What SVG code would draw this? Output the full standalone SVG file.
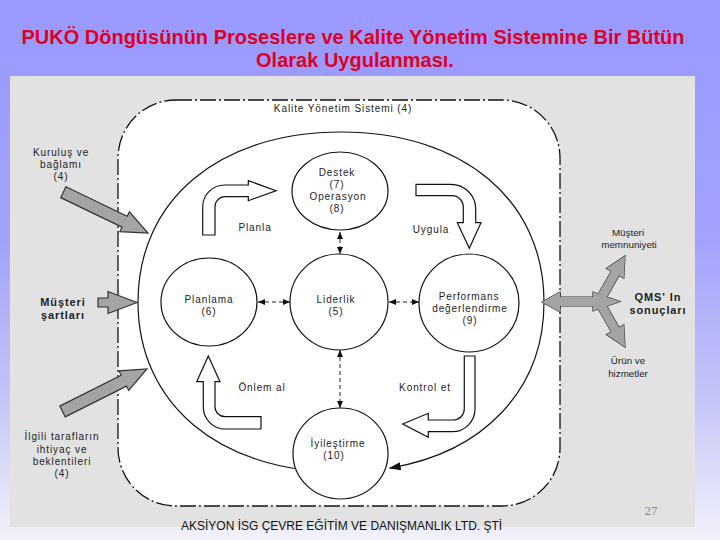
<svg xmlns="http://www.w3.org/2000/svg" width="720" height="540" viewBox="0 0 720 540">
<defs>
<linearGradient id="bg" x1="0" y1="0" x2="0" y2="1">
<stop offset="0" stop-color="#9999ff"/>
<stop offset="0.45" stop-color="#a3a3fd"/>
<stop offset="0.75" stop-color="#c6c6f7"/>
<stop offset="1" stop-color="#f2f2fb"/>
</linearGradient>
<marker id="sa" viewBox="0 0 7 6" refX="7" refY="3" markerWidth="7" markerHeight="6" markerUnits="userSpaceOnUse" orient="auto-start-reverse"><path d="M0,0 L7,3 L0,6 Z" fill="#111"/></marker>
<marker id="la" viewBox="0 0 12 8" refX="11" refY="4" markerWidth="12" markerHeight="8" markerUnits="userSpaceOnUse" orient="auto"><path d="M0,0 L12,4 L0,8 Z" fill="#111"/></marker>
<style>
.t{font-family:"Liberation Sans",Arial,sans-serif;fill:#222;text-anchor:middle;font-size:10px;letter-spacing:0.9px}
.s{font-size:9.8px;letter-spacing:0}
.b{font-weight:bold;font-size:11px;letter-spacing:0.9px}
.title{font-family:"Liberation Sans",Arial,sans-serif;font-weight:bold;font-size:20px;fill:#e00024;text-anchor:middle}
.node{fill:#fff;stroke:#111;stroke-width:1.2}
.dash{fill:none;stroke:#222;stroke-width:1;stroke-dasharray:4 3}
.blk{fill:#fff;stroke:#111;stroke-width:1.2;stroke-linejoin:miter}
.gray{fill:#a4a4a4;stroke:#333;stroke-width:1.2;stroke-linejoin:miter}
</style>
</defs>
<rect x="0" y="0" width="720" height="540" fill="url(#bg)"/>
<rect x="10" y="76" width="685" height="451" fill="#e2e2e2"/>
<text class="title" x="353" y="44">PUKÖ Döngüsünün Proseslere ve Kalite Yönetim Sistemine Bir Bütün</text>
<text class="title" x="355" y="67">Olarak Uygulanması.</text>

<g id="qms-boundary">
<rect x="118" y="100" width="442" height="406" rx="58" ry="58" fill="#fff" stroke="#111" stroke-width="1.3" stroke-dasharray="16 3 2 3"/>
<text class="t" x="343" y="112">Kalite Yönetim Sistemi (4)</text>
</g>

<g id="connectors">
<path class="cycle" d="M341,472 C219.2,472 138,404 138,302 C138,200 219.2,132 341,132 C462.8,132 544,200 544,302 C544,389.7 484,452.3 389.7,468.1" fill="none" stroke="#111" stroke-width="1.2" marker-end="url(#la)"/>
<path class="dash" d="M340,232 L340,254" marker-start="url(#sa)" marker-end="url(#sa)"/>
<path class="dash" d="M258,302 L290,302" marker-start="url(#sa)" marker-end="url(#sa)"/>
<path class="dash" d="M389,302 L419,302" marker-start="url(#sa)" marker-end="url(#sa)"/>
<path class="dash" d="M340,350 L340,408" marker-start="url(#sa)" marker-end="url(#sa)"/>
</g>

<g id="destek">
<ellipse class="node" cx="340" cy="191" rx="48" ry="39"/>
<text class="t" x="337" y="176">Destek</text>
<text class="t" x="337" y="188">(7)</text>
<text class="t" x="338" y="200">Operasyon</text>
<text class="t" x="337" y="212">(8)</text>
</g>
<g id="planlama">
<ellipse class="node" cx="209" cy="302" rx="48" ry="44"/>
<text class="t" x="209" y="303">Planlama</text>
<text class="t" x="209" y="315">(6)</text>
</g>
<g id="liderlik">
<ellipse class="node" cx="339" cy="302" rx="49" ry="48"/>
<text class="t" x="336" y="303">Liderlik</text>
<text class="t" x="336" y="315">(5)</text>
</g>
<g id="performans">
<ellipse class="node" cx="469" cy="303" rx="50" ry="49"/>
<text class="t" x="469" y="300">Performans</text>
<text class="t" x="470" y="312">değerlendirme</text>
<text class="t" x="470" y="324">(9)</text>
</g>
<g id="iyilestirme">
<ellipse class="node" cx="340.5" cy="453.5" rx="47.5" ry="45.5"/>
<text class="t" x="338" y="447">İyileştirme</text>
<text class="t" x="334" y="459">(10)</text>
</g>

<g id="planla">
<path class="blk" d="M202.7,235 L202.7,207 A22 22 0 0 1 224.7,185 L248.3,185 L248.3,180.7 L276,190.7 L248.3,200.7 L248.3,196.7 L225,196.7 A10 10 0 0 0 215,206.7 L215,235 Z"/>
<text class="t" x="255" y="231">Planla</text>
</g>
<g id="uygula">
<path class="blk" d="M416,184.3 L451,184.3 A24.7 24.7 0 0 1 475.7,209 L475.7,222.7 L481,222.7 L469.3,248.3 L457.3,222.7 L463.3,222.7 L463.3,207 A11.3 11.3 0 0 0 452,195.7 L416,195.7 Z"/>
<text class="t" x="431" y="233">Uygula</text>
</g>
<g id="kontrol">
<path class="blk" d="M464.3,356 L475,356 L475,409 A22.7 22.7 0 0 1 452.3,431.7 L428.3,431.7 L428.3,437.3 L402.7,424 L428.3,413.3 L428.3,420 L453.3,420 A11 11 0 0 0 464.3,409 Z"/>
<text class="t" x="425" y="391">Kontrol et</text>
</g>
<g id="onlem">
<path class="blk" d="M208.3,356 L220,381.7 L215,381.7 L215,406.7 A10 10 0 0 0 225,416.7 L261,416.7 L261,429 L225.3,429 A22 22 0 0 1 203.3,407 L203.3,381.7 L196.7,381.7 Z"/>
<text class="t" x="262" y="391">Önlem al</text>
</g>

<g id="kurulus">
<polygon class="gray" points="65.9,186.8 127.2,216.3 129.4,211.8 148,233 119.8,231.6 122,227.1 60.7,197.6"/>
<text class="t" x="61" y="156">Kuruluş ve</text>
<text class="t" x="61" y="168">bağlamı</text>
<text class="t" x="61" y="180">(4)</text>
</g>
<g id="musteri-sartlari">
<polygon class="gray" points="98,298 108,298 108,291.5 137,302.5 108,313.5 108,307 98,307"/>
<text class="t b" x="63" y="306">Müşteri</text>
<text class="t b" x="63" y="319">şartları</text>
</g>
<g id="ilgili">
<polygon class="gray" points="65.2,416.9 126.5,386.1 128.7,390.5 147,369 118.9,370.9 121.1,375.3 59.8,406.1"/>
<text class="t" x="62" y="440">İlgili tarafların</text>
<text class="t" x="62" y="453">ihtiyaç ve</text>
<text class="t" x="62" y="465">beklentileri</text>
<text class="t" x="62" y="477">(4)</text>
</g>

<g id="qms-sonuclari">
<g stroke-width="2.2" class="gray">
<polygon points="603.9,302.2 619,275.6 623.8,278.3 625,256 606.4,268.5 611.2,271.2 596.1,297.8"/>
<polygon points="603.9,300.8 619,327.4 623.8,324.7 625,347 606.4,334.5 611.2,331.8 596.1,305.2"/>
<polygon points="542,302 560,292 560,297 593,297 593,292 620,301.5 593,311 593,306 560,306 560,312"/>
</g>
<g fill="#a4a4a4">
<polygon points="603.9,302.2 619,275.6 623.8,278.3 625,256 606.4,268.5 611.2,271.2 596.1,297.8"/>
<polygon points="603.9,300.8 619,327.4 623.8,324.7 625,347 606.4,334.5 611.2,331.8 596.1,305.2"/>
<polygon points="542,302 560,292 560,297 593,297 593,292 620,301.5 593,311 593,306 560,306 560,312"/>
</g>
<text class="t s" x="628" y="236">Müşteri</text>
<text class="t s" x="629" y="248">memnuniyeti</text>
<text class="t b" x="658" y="301">QMS' In</text>
<text class="t b" x="658" y="314">sonuçları</text>
<text class="t s" x="628" y="364">Ürün ve</text>
<text class="t s" x="628" y="377">hizmetler</text>
</g>

<text x="651" y="515" style="font-family:'Liberation Serif',serif;font-size:13px;fill:#8a8a8a;text-anchor:middle">27</text>
<text x="181" y="530" style="font-family:'Liberation Sans',Arial,sans-serif;font-size:12px;fill:#111">AKSİYON İSG ÇEVRE EĞİTİM VE DANIŞMANLIK LTD. ŞTİ</text>
</svg>
